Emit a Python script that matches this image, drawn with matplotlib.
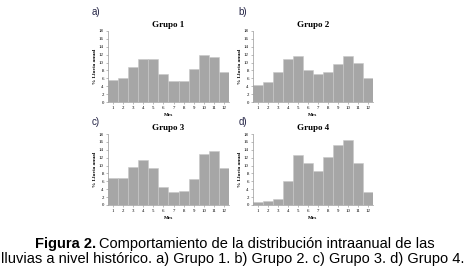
import numpy as np
import matplotlib
matplotlib.use('Agg')
from matplotlib import pyplot as plt

# datos (% lluvia anual por mes)
meses = list(range(1, 13))
grupo1 = [5.7, 6.2, 8.8, 11.0, 10.9, 7.1, 5.3, 5.4, 8.3, 11.9, 11.4, 7.6]
grupo2 = [4.2, 5.1, 7.6, 11.0, 11.7, 8.2, 7.2, 7.6, 9.7, 11.6, 10.0, 6.1]
grupo3 = [6.9, 6.9, 9.6, 11.4, 9.3, 4.6, 3.2, 3.5, 6.6, 13.0, 13.6, 9.3]
grupo4 = [0.7, 0.9, 1.6, 6.2, 12.8, 10.7, 8.7, 12.2, 15.2, 16.4, 10.7, 3.4]
titulos = ['Grupo 1', 'Grupo 2', 'Grupo 3', 'Grupo 4']
letras = ['a)', 'b)', 'c)', 'd)']
yticks = list(range(0, 20, 2))

W, H = 466, 270
fig = plt.figure(figsize=(W / 100, H / 100), dpi=100)

# cajas de ejes en pixeles: izquierda, derecha, arriba, abajo
cajas = [(108, 229, 31, 102), (253, 373, 31, 102),
         (108, 229, 134, 205), (253, 373, 134, 205)]
letra_pos = [(96, 12), (243, 12), (96, 122), (243, 122)]
serif = 'Liberation Serif'

for i, datos in enumerate([grupo1, grupo2, grupo3, grupo4]):
    l, r, t, b = cajas[i]
    ax = fig.add_axes([l / W, (H - b) / H, (r - l) / W, (b - t) / H])
    ax.bar(meses, datos, width=1.0, color='#a6a6a6', edgecolor='#c8c8c8', linewidth=0.4)
    ax.set_xlim(0.5, 12.5)
    ax.set_ylim(0, 18)
    ax.set_yticks(yticks)
    ax.set_xticks(meses)
    ax.tick_params(labelsize=3.5, length=1.5, width=0.4, color='#888888', pad=1.5)
    for lab in ax.get_xticklabels() + ax.get_yticklabels():
        lab.set_fontfamily(serif)
    for s in ['top', 'right']:
        ax.spines[s].set_visible(False)
    for s in ['left', 'bottom']:
        ax.spines[s].set_color('#999999')
        ax.spines[s].set_linewidth(0.5)
    ax.set_ylabel('% Lluvia anual', fontsize=3.8, fontweight='bold', fontfamily=serif, labelpad=1)
    ax.set_xlabel('Mes', fontsize=3.8, fontweight='bold', fontfamily=serif, labelpad=2)
    ax.set_title(titulos[i], fontsize=6.5, fontweight='bold', fontfamily=serif, pad=3)
    lx, ly = letra_pos[i]
    fig.text(lx / W, 1 - ly / H, letras[i], fontsize=7, fontfamily='Liberation Sans',
             ha='center', va='center', color='#222244')

# pie de figura, primera linea con parte en negrita
fs = 10.5
y1 = 1 - 244 / H
t1 = fig.text(35 / W, y1, 'Figura 2.', fontsize=fs, fontweight='bold',
              fontfamily='Liberation Sans', ha='left', va='center')
fig.canvas.draw()
bb = t1.get_window_extent(renderer=fig.canvas.get_renderer())
fig.text((bb.x1 + 3) / W, y1, 'Comportamiento de la distribución intraanual de las',
         fontsize=fs, fontfamily='Liberation Sans', ha='left', va='center')
fig.text(0.5, 1 - 259 / H, 'lluvias a nivel histórico. a) Grupo 1. b) Grupo 2. c) Grupo 3. d) Grupo 4.',
         fontsize=fs, fontfamily='Liberation Sans', ha='center', va='center')

fig.savefig('out.png', dpi=100)
